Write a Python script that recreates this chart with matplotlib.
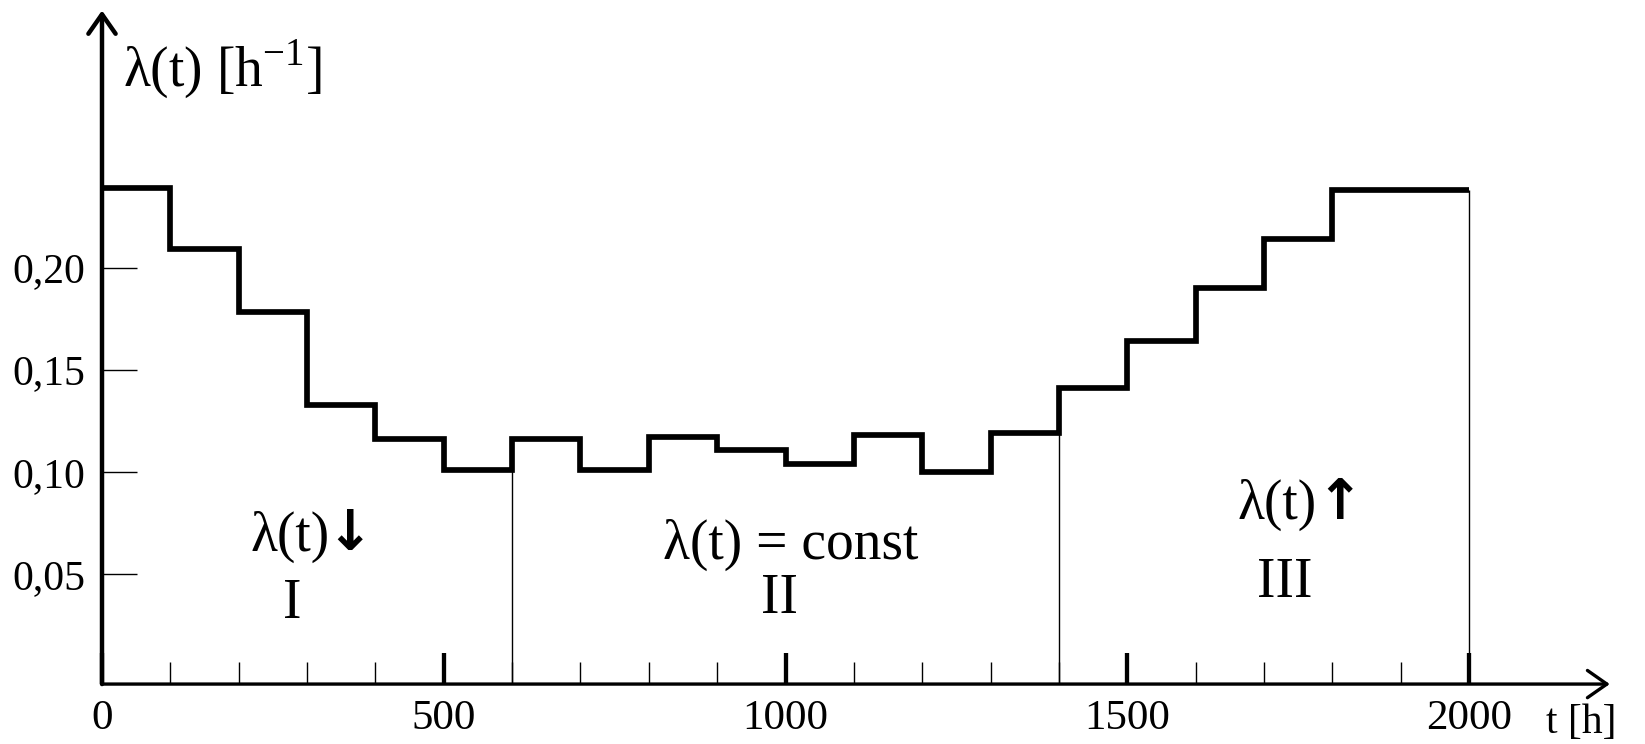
import matplotlib
matplotlib.use("Agg")
import matplotlib.pyplot as plt
import numpy as np

# ---- data ----
t_edges = [0, 100, 200, 300, 400, 500, 600, 700, 800, 900, 1000,
           1100, 1200, 1300, 1400, 1500, 1600, 1700, 1800, 1900, 2000]
lam = [0.239, 0.209, 0.178, 0.133, 0.116, 0.101, 0.116, 0.101, 0.117, 0.111,
       0.104, 0.118, 0.100, 0.119, 0.141, 0.164, 0.190, 0.214, 0.238, 0.238]
x_major = [0, 500, 1000, 1500, 2000]
x_major_labels = ["0", "500", "1000", "1500", "2000"]
x_minor = [100, 200, 300, 400, 600, 700, 800, 900, 1100, 1200, 1300, 1400,
           1600, 1700, 1800, 1900]
y_ticks = [0.05, 0.10, 0.15, 0.20]
y_tick_labels = ["0,05", "0,10", "0,15", "0,20"]
boundaries = [600, 1400, 2000]
boundary_tops = [lam[5], lam[13], lam[19]]

plt.rcParams['font.family'] = ['Liberation Serif', 'DejaVu Serif']
plt.rcParams['mathtext.fontset'] = 'custom'
plt.rcParams['mathtext.rm'] = 'Liberation Serif'

W, H = 1645, 744
fig = plt.figure(figsize=(W / 100, H / 100), dpi=100)

x0_px, x2000_px = 102, 1469
y0_px, y01_px = 676.5, 472   # pixel rows (from top) for 0 and 0.10
sx = (x2000_px - x0_px) / 2000.0
sy = (y0_px - y01_px) / 0.10
xmin, xmax = 0, 2206
ymin, ymax = -0.0037, 0.3257
left = (x0_px + xmin * sx) / W
width = (xmax - xmin) * sx / W
bottom = (H - (y0_px - ymin * sy)) / H
height = (ymax - ymin) * sy / H
ax = fig.add_axes([left, bottom, width, height])
ax.set_xlim(xmin, xmax)
ax.set_ylim(ymin, ymax)
for s in ax.spines.values():
    s.set_visible(False)

# axes with arrows
ax.annotate('', xy=(0, ymax), xytext=(0, ymin),
            arrowprops=dict(arrowstyle='->,head_length=0.5,head_width=0.35',
                            lw=3.2, color='black',
                            shrinkA=0, shrinkB=0, mutation_scale=28),
            annotation_clip=False)
ax.annotate('', xy=(xmax, ymin), xytext=(0, ymin),
            arrowprops=dict(arrowstyle='->,head_length=0.5,head_width=0.35',
                            lw=2.4, color='black',
                            shrinkA=0, shrinkB=0, mutation_scale=28),
            annotation_clip=False)

# ticks
ax.set_xticks(x_major)
ax.set_xticklabels(x_major_labels)
ax.set_xticks(x_minor, minor=True)
ax.set_yticks(y_ticks)
ax.set_yticklabels(y_tick_labels)
ax.tick_params(axis='x', which='major', direction='in', length=22, width=3.1,
               pad=11, labelsize=31)
ax.tick_params(axis='x', which='minor', direction='in', length=16, width=1.0)
ax.tick_params(axis='y', which='major', direction='in', length=25, width=1.0,
               pad=12, labelsize=30)

# step line
ax.stairs(lam, t_edges, baseline=None, color='black', lw=4.1)
ax.vlines(boundaries, ymin, boundary_tops, color='black', lw=1.0)

# texts
ax.text(30, 0.297, r'λ(t) [h$^{\mathregular{-1}}$]', fontsize=40,
        ha='left', va='center')
ax.text(275, 0.0682, 'λ(t)', fontsize=40, ha='center', va='center')
ax.text(362, 0.0690, '↓', fontsize=40, ha='center', va='center',
        family='DejaVu Sans', fontweight='bold')
ax.text(278, 0.0355, 'I', fontsize=40, ha='center', va='center')
ax.text(1007, 0.0643, 'λ(t) = const', fontsize=40, ha='center', va='center')
ax.text(991, 0.0378, 'II', fontsize=40, ha='center', va='center')
ax.text(1720, 0.0839, 'λ(t)', fontsize=40, ha='center', va='center')
ax.text(1811, 0.0845, '↑', fontsize=40, ha='center', va='center',
        family='DejaVu Sans', fontweight='bold')
ax.text(1731, 0.0457, 'III', fontsize=40, ha='center', va='center')
ax.text(2112, -0.0225, 't [h]', fontsize=30, ha='left', va='center',
        clip_on=False)

fig.savefig('out.png', dpi=100)
